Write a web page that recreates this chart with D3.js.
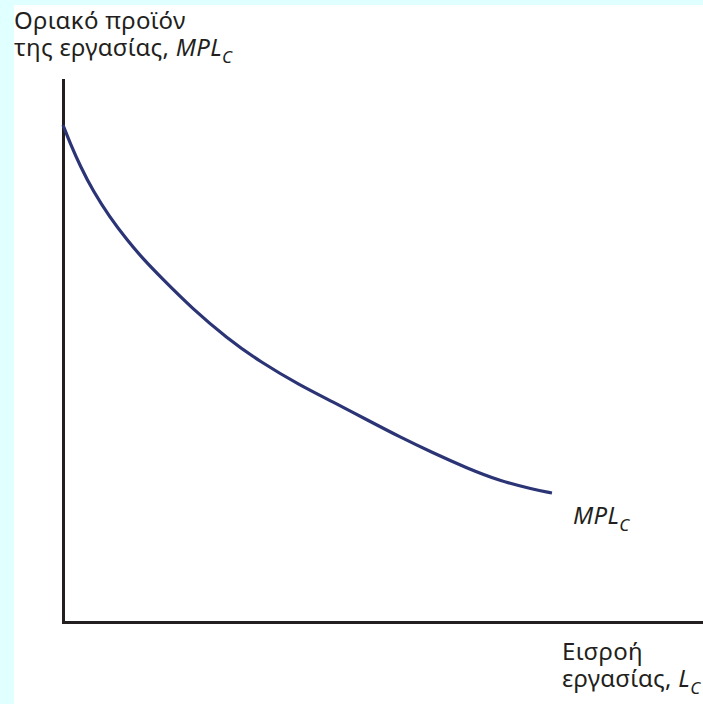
<!DOCTYPE html>
<html>
<head>
<meta charset="utf-8" />
<title></title>
<style>
html, body {
    padding: 0px;
    margin: 0px;
    width: 100%;
    height: 100%;
    background: #e0ffff;
}
svg text {
    font-family: "Noto Sans", "Open Sans", sans-serif;
    font-size: 24px;
    letter-spacing: 0.3px;
    fill: #231f20;
}
.axis path {
    stroke: #231f20;
    stroke-width: 3;
    stroke-linecap: square;
}
</style>
</head>
<body>
<script src="https://cdnjs.cloudflare.com/ajax/libs/d3/7.8.5/d3.min.js"></script>
<script>
!(function(){
    "use strict"

    // labour input (x) and marginal product (y)
    var labour = [0, 1.1, 2.7, 4.7, 7.3, 10, 12.5, 15.2, 20.3, 25.6, 30.8, 37, 42.2, 47.5, 52.7, 57.8, 63.1, 68.3, 73.4, 76.4]
    var mpl    = [91.7, 88.4, 84.1, 79.5, 74.7, 70.5, 67.0, 63.7, 57.7, 52.4, 48.0, 43.7, 40.6, 37.3, 34.1, 31.2, 28.4, 26.0, 24.5, 23.8]

    var yTitle = ["Οριακό προϊόν", "της εργασίας, "]
    var xTitle = ["Εισροή", "εργασίας, "]

    var W = 703, H = 704

    var svg = d3.select("body").append("svg")
        .attr("width", W)
        .attr("height", H)
        .style("display", "block")

    // white panel
    svg.append("rect")
        .attr("x", 14).attr("y", 5)
        .attr("width", W - 14).attr("height", H - 5)
        .attr("fill", "#fff")

    var x = d3.scaleLinear().domain([0, 100]).range([63, 703])
    var y = d3.scaleLinear().domain([0, 100]).range([622, 80])

    svg.append("g")
        .attr("class", "axis")
        .attr("transform", "translate(0,622)")
        .call(d3.axisBottom(x).tickValues([]).tickSizeOuter(0))

    svg.append("g")
        .attr("class", "axis")
        .attr("transform", "translate(63,0)")
        .call(d3.axisLeft(y).tickValues([]).tickSizeOuter(0))

    var line = d3.line()
        .x(function(d, i){ return x(labour[i]) })
        .y(function(d){ return y(d) })
        .curve(d3.curveBasis)

    svg.append("path")
        .datum(mpl)
        .attr("d", line)
        .attr("fill", "none")
        .attr("stroke", "#2b3475")
        .attr("stroke-width", 3.2)

    // y title
    svg.append("text").attr("x", 14).attr("y", 29).text(yTitle[0])
    var t2 = svg.append("text").attr("x", 14).attr("y", 56)
    t2.append("tspan").text(yTitle[1])
    t2.append("tspan").style("font-style", "italic").text("MPL")
    t2.append("tspan").style("font-style", "italic").style("font-size", "17px").attr("dy", 7).text("C")

    // curve label
    var lab = svg.append("text").attr("x", 573).attr("y", 524).style("font-style", "italic")
    lab.append("tspan").text("MPL")
    lab.append("tspan").style("font-size", "17px").attr("dy", 7).text("C")

    // x title
    svg.append("text").attr("x", 562).attr("y", 660).text(xTitle[0])
    var t4 = svg.append("text").attr("x", 562).attr("y", 687)
    t4.append("tspan").text(xTitle[1])
    t4.append("tspan").style("font-style", "italic").text("L")
    t4.append("tspan").style("font-style", "italic").style("font-size", "17px").attr("dy", 7).text("C")

}());
</script>
</body>
</html>
